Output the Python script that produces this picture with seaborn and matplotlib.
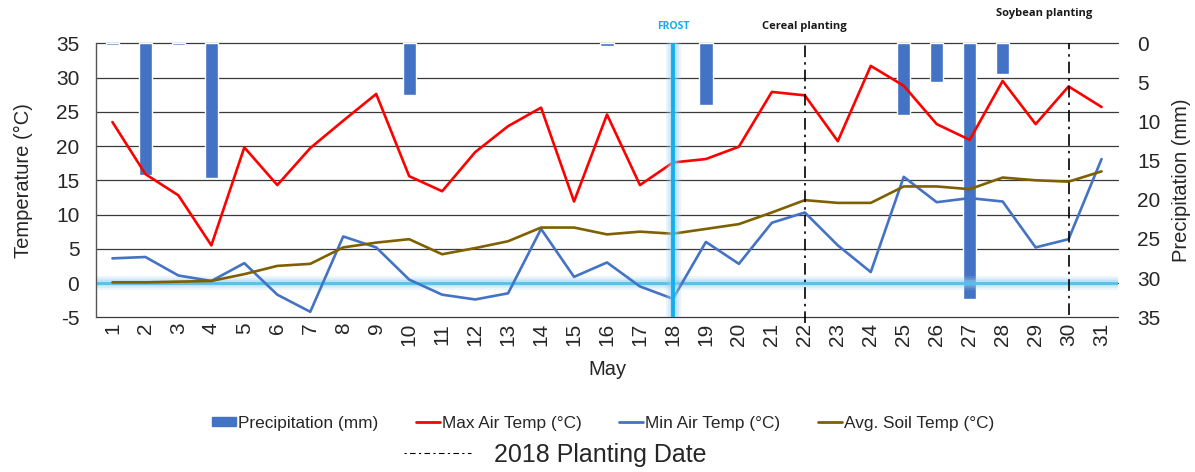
import numpy as np
import pandas as pd
import matplotlib
matplotlib.use("Agg")
import matplotlib.pyplot as plt
import matplotlib.transforms as mtransforms
from matplotlib.patches import Patch
from matplotlib.lines import Line2D
import seaborn as sns

# --- data (May 2018) ---
days = list(range(1, 32))
max_air = [23.5, 15.9, 12.8, 5.5, 19.8, 14.3, 19.7, 23.7, 27.6, 15.6,
           13.4, 19.1, 22.9, 25.6, 11.9, 24.6, 14.3, 17.6, 18.1, 19.9,
           27.9, 27.4, 20.7, 31.7, 28.8, 23.2, 20.9, 29.5, 23.2, 28.7, 25.7]
min_air = [3.6, 3.8, 1.1, 0.3, 2.9, -1.7, -4.2, 6.8, 5.2, 0.5,
           -1.7, -2.4, -1.5, 7.9, 0.9, 3.0, -0.5, -2.3, 6.0, 2.8,
           8.8, 10.3, 5.5, 1.6, 15.5, 11.8, 12.4, 11.9, 5.2, 6.4, 18.1]
soil = [0.1, 0.1, 0.2, 0.3, 1.3, 2.5, 2.8, 5.2, 5.9, 6.4,
        4.2, 5.1, 6.1, 8.1, 8.1, 7.1, 7.5, 7.2, 7.9, 8.6,
        10.3, 12.1, 11.7, 11.7, 14.1, 14.1, 13.7, 15.4, 15.0, 14.8, 16.3]
precip = [0.2, 16.8, 0.2, 17.2, 0, 0, 0, 0, 0, 6.6,
          0, 0, 0, 0, 0, 0.4, 0, 0, 7.9, 0,
          0, 0, 0, 0, 9.2, 4.9, 32.7, 3.9, 0, 0, 0]
frost_day = 18
planting_days = [22, 30]
planting_labels = ["Cereal planting", "Soybean planting"]

df = pd.DataFrame({"day": days, "max_air": max_air, "min_air": min_air,
                   "soil": soil, "precip": precip})
wet = df[df["precip"] > 0]

sns.set_theme(style="white")
plt.rcParams["font.family"] = ["Liberation Sans", "DejaVu Sans"]
plt.rcParams["axes.unicode_minus"] = False

c_bar = "#4472C4"
c_max = "#FF0000"
c_min = "#4472C4"
c_soil = "#7F6000"
c_frost = "#12B0EE"

fig = plt.figure(figsize=(11.95, 4.72), dpi=100)
ax = fig.add_axes([0.0803, 0.3278, 0.8553, 0.5805])
axp = ax.twinx()
axp.set_zorder(ax.get_zorder() - 1)
ax.patch.set_visible(False)

# precipitation bars hanging from the top (inverted right axis)
sns.barplot(data=wet, x="day", y="precip", native_scale=True, width=0.4,
            color=c_bar, saturation=1, ax=axp, zorder=2)
axp.set_ylim(35, 0)
axp.set_yticks(range(0, 36, 5))

# horizontal gridlines from the temperature axis, drawn behind the bars
ax.set_ylim(-5, 35)
ax.set_yticks(range(-5, 36, 5))
tr = mtransforms.blended_transform_factory(axp.transAxes, ax.transData)
for t in ax.get_yticks():
    axp.plot([0, 1], [t, t], transform=tr, color="#3a3a3a", lw=0.9,
             zorder=0, clip_on=False)

# zero line with soft glow
for w, a in [(10, 0.18), (7, 0.25), (4.5, 0.35)]:
    ax.axhline(0, color="#9CCFF0", lw=w, alpha=a, zorder=1)
ax.axhline(0, color="#5BBDEB", lw=2, zorder=1.5)

sns.lineplot(data=df, x="day", y="max_air", color=c_max, lw=1.9, ax=ax, zorder=3)
sns.lineplot(data=df, x="day", y="min_air", color=c_min, lw=1.9, ax=ax, zorder=3)
sns.lineplot(data=df, x="day", y="soil", color=c_soil, lw=1.9, ax=ax, zorder=3)

# frost marker with soft glow
for w, a in [(11, 0.2), (8, 0.25), (5, 0.35)]:
    ax.axvline(frost_day, color="#9CCFF0", lw=w, alpha=a, zorder=4)
ax.axvline(frost_day, color=c_frost, lw=2.8, zorder=4.5)
ax.text(frost_day, 37.5, "FROST", color=c_frost, ha="center", va="center",
        fontsize=7.5, fontweight="bold", family="Open Sans")

# planting dates
dd = (0, (7, 3, 1.5, 3))
ax.axvline(planting_days[0], ymin=-0.02, ymax=1, color="black", lw=1.2,
           linestyle=dd, zorder=5, clip_on=False)
ax.axvline(planting_days[1], ymin=0.01, ymax=1, color="black", lw=1.2,
           linestyle=dd, zorder=5)
ax.text(planting_days[0], 37.4, planting_labels[0], ha="center", va="center",
        fontsize=8, fontweight="bold", family="Open Sans", color="#1a1a1a")
ax.text(planting_days[1] - 0.75, 39.4, planting_labels[1], ha="center", va="center",
        fontsize=8, fontweight="bold", family="Open Sans", color="#1a1a1a")

ax.set_xlim(0.5, 31.5)
ax.set_xticks(days)
ax.set_xticklabels([str(d) for d in days], rotation=90, fontsize=15)
ax.tick_params(axis="x", length=0, pad=4)
ax.tick_params(axis="y", length=0, pad=12, labelsize=15)
axp.tick_params(axis="y", length=0, pad=14, labelsize=15)
axp.tick_params(axis="x", length=0)

ax.set_xlabel("May", fontsize=14.5, labelpad=10)
ax.set_ylabel("Temperature (°C)", fontsize=14.5)
axp.set_ylabel("Precipitation (mm)", fontsize=14.5)
ax.yaxis.set_label_coords(-0.062, 0.5)
axp.yaxis.set_label_coords(1.053, 0.5)

for s in ["top", "right", "bottom"]:
    ax.spines[s].set_visible(False)
    axp.spines[s].set_visible(False)
axp.spines["left"].set_visible(False)
ax.spines["left"].set_color("#555555")
ax.spines["left"].set_linewidth(1.0)

handles = [Patch(color=c_bar, label="Precipitation (mm)"),
           Line2D([], [], color=c_max, lw=2, label="Max Air Temp (°C)"),
           Line2D([], [], color=c_min, lw=2, label="Min Air Temp (°C)"),
           Line2D([], [], color=c_soil, lw=2, label="Avg. Soil Temp (°C)")]
fig.legend(handles=handles, loc="center", bbox_to_anchor=(0.5046, 0.1038),
           ncol=4, frameon=False, fontsize=12.4, handlelength=1.4,
           handleheight=0.45, handletextpad=0.1, columnspacing=2.2)
fig.legend(handles=[Line2D([], [], color="black", lw=0.8, linestyle=(0, (2, 3, 5, 3)),
                           label="2018 Planting Date")],
           loc="center", bbox_to_anchor=(0.4644, 0.036), frameon=False,
           fontsize=18, handlelength=2.7, handletextpad=0.9)

plt.savefig("out.png", dpi=100)
